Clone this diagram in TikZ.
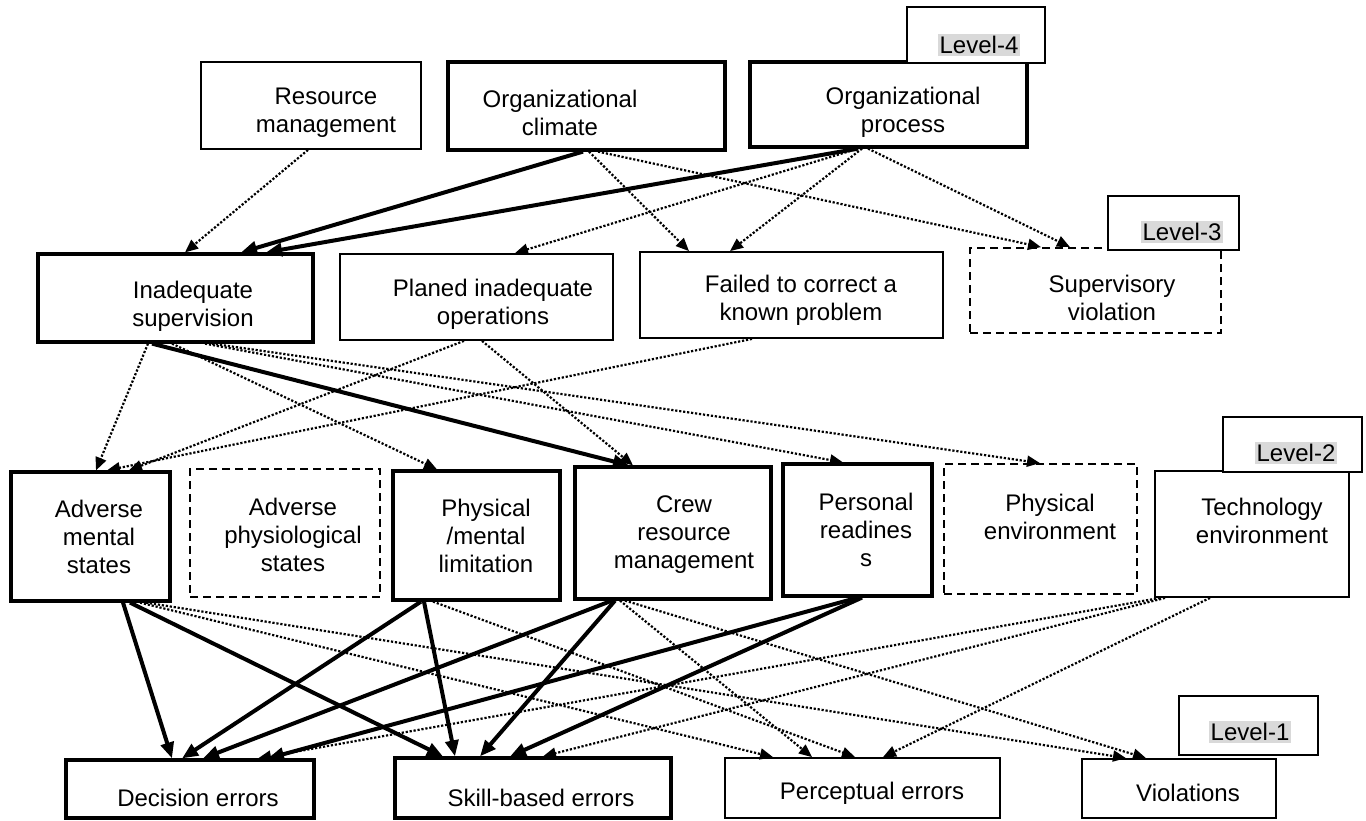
\documentclass[tikz,border=0pt]{standalone}
\usepackage{fontspec}
\setmainfont{Liberation Sans}
\usetikzlibrary{arrows.meta,fit,calc}
\begin{document}
\begin{tikzpicture}[x=0.5pt,y=-0.5pt,
  bx/.style={draw, line width=0.9pt, fill=white, inner sep=0pt},
  bxthick/.style={draw, line width=1.6pt, fill=white, inner sep=0pt},
  bxdash/.style={draw, line width=0.9pt, dash pattern=on 4pt off 2.5pt, fill=white, inner sep=0pt},
  txt/.style={font=\fontsize{12pt}{14pt}\selectfont, align=center, inner sep=0pt},
  lvl/.style={font=\fontsize{12pt}{14pt}\selectfont, fill=black!15, inner sep=1pt},
  dot/.style={line width=1.1pt, dash pattern=on 1.1pt off 0.9pt, -{Triangle[length=6.5pt,width=5.5pt]}},
  thk/.style={line width=2pt, -{Triangle[length=8pt,width=6.5pt]}},
]
\useasboundingbox (0,0) rectangle (1366,820);
\fill[white] (0,0) rectangle (1366,820);

% ---------- Level 4 ----------
\node[bx, fit={(201,62) (421,149)}] (res) {};
\node[bxthick, fit={(448,62) (725,150)}] (clim) {};
\node[bxthick, fit={(750,62) (1027,147)}] (proc) {};
\node[bx, fit={(907,7) (1045,63)}] (l4) {};

% ---------- Level 3 ----------
\node[bxthick, fit={(38,254) (313,342)}] (inad) {};
\node[bx, fit={(340,254) (613,340)}] (plan) {};
\node[bx, fit={(640,252) (943,338)}] (fail) {};
\node[bxdash, fit={(970,248) (1221,333)}] (sup) {};
\node[bx, fit={(1108,196) (1239,250)}] (l3) {};

% ---------- Level 2 ----------
\node[bxthick, fit={(11,472) (170,601)}] (adm) {};
\node[bxdash, fit={(190,469) (380,597)}] (adp) {};
\node[bxthick, fit={(393,471) (560,600)}] (pml) {};
\node[bxthick, fit={(575,467) (771,599)}] (crm) {};
\node[bxthick, fit={(783,464) (932,596)}] (per) {};
\node[bxdash, fit={(944,464) (1137,594)}] (phe) {};
\node[bx, fit={(1155,471) (1349,597)}] (tec) {};
\node[bx, fit={(1223,417) (1362,472)}] (l2) {};

% ---------- Level 1 ----------
\node[bxthick, fit={(66,760) (314,818)}] (dec) {};
\node[bxthick, fit={(395,758) (671,818)}] (skl) {};
\node[bx, fit={(725,758) (1000,818)}] (pcp) {};
\node[bx, fit={(1082,759) (1276,818)}] (vio) {};
\node[bx, fit={(1179,696) (1318,755)}] (l1) {};

% ---------- Texts ----------
\node[txt] (resT) at (326,113) {Resource\\management};
\node[txt] (climT) at (560,113) {Organizational\\climate};
\node[txt] (procT) at (903,112) {Organizational\\process};
\node[lvl] (l4T) at (979,45) {Level-4};
\node[txt] (inadT) at (193,306) {Inadequate\\supervision};
\node[txt] (planT) at (493,304) {Planed inadequate\\operations};
\node[txt] (failT) at (801,300) {Failed to correct a\\known problem};
\node[txt] (supT) at (1112,298) {Supervisory\\violation};
\node[lvl] (l3T) at (1182,232) {Level-3};
\node[txt] (admT) at (99,537) {Adverse\\mental\\states};
\node[txt] (adpT) at (293,535) {Adverse\\physiological\\states};
\node[txt] (pmlT) at (486,536) {Physical\\/mental\\limitation};
\node[txt] (crmT) at (684,535) {Crew\\resource\\management};
\node[txt] (perT) at (866,530) {Personal\\readines\\s};
\node[txt] (pheT) at (1050,517) {Physical\\environment};
\node[txt] (tecT) at (1262,521) {Technology\\environment};
\node[lvl] (l2T) at (1296,453) {Level-2};
\node[txt] (decT) at (198,798) {Decision errors};
\node[txt] (sklT) at (541,798) {Skill-based errors};
\node[txt] (pcpT) at (872,793) {Perceptual errors};
\node[txt] (vioT) at (1188,793) {Violations};
\node[lvl] (l1T) at (1250,732) {Level-1};

% ---------- Level 4 -> Level 3 ----------
\draw[dot] (308,0 |- res.south) -- (185,0 |- inad.north);
\draw[thk] (583,0 |- clim.south) -- (241,0 |- inad.north);
\draw[dot] (589,0 |- clim.south) -- (689,0 |- fail.north);
\draw[dot] (598,0 |- clim.south) -- (1041,0 |- sup.north);
\draw[thk] (858,0 |- proc.south) -- (266,0 |- inad.north);
\draw[dot] (858,0 |- proc.south) -- (515,0 |- plan.north);
\draw[dot] (862,0 |- proc.south) -- (730,0 |- fail.north);
\draw[dot] (868,0 |- proc.south) -- (1070,0 |- sup.north);

% ---------- Level 3 -> Level 2 ----------
\draw[thk] (152,0 |- inad.south) -- (629,0 |- crm.north);
\draw[dot] (148,0 |- inad.south) -- (96,0 |- adm.north);
\draw[dot] (172,0 |- inad.south) -- (437,0 |- pml.north);
\draw[dot] (205,0 |- inad.south) -- (843,0 |- per.north);
\draw[dot] (212,0 |- inad.south) -- (1040,0 |- phe.north);
\draw[dot] (464,0 |- plan.south) -- (129,0 |- adm.north);
\draw[dot] (482,0 |- plan.south) -- (633,0 |- crm.north);
\draw[dot] (752,0 |- fail.south) -- (107,0 |- adm.north);

% ---------- Level 2 -> Level 1 ----------
\draw[thk] (123,0 |- adm.south) -- (172,0 |- dec.north);
\draw[thk] (130,0 |- adm.south) -- (443,0 |- skl.north);
\draw[dot] (140,0 |- adm.south) -- (773,0 |- pcp.north);
\draw[dot] (146,0 |- adm.south) -- (1126,0 |- vio.north);
\draw[thk] (421,0 |- pml.south) -- (182,0 |- dec.north);
\draw[thk] (424,0 |- pml.south) -- (455,0 |- skl.north);
\draw[dot] (433,0 |- pml.south) -- (855,0 |- pcp.north);
\draw[thk] (612,0 |- crm.south) -- (203,0 |- dec.north);
\draw[thk] (615,0 |- crm.south) -- (480,0 |- skl.north);
\draw[dot] (620,0 |- crm.south) -- (812,0 |- pcp.north);
\draw[dot] (625,0 |- crm.south) -- (1146,0 |- vio.north);
\draw[thk] (858,0 |- per.south) -- (268,0 |- dec.north);
\draw[thk] (862,0 |- per.south) -- (510,0 |- skl.north);
\draw[dot] (1160,0 |- tec.south) -- (258,0 |- dec.north);
\draw[dot] (1165,0 |- tec.south) -- (543,0 |- skl.north);
\draw[dot] (1210,0 |- tec.south) -- (883,0 |- pcp.north);
\end{tikzpicture}
\end{document}
